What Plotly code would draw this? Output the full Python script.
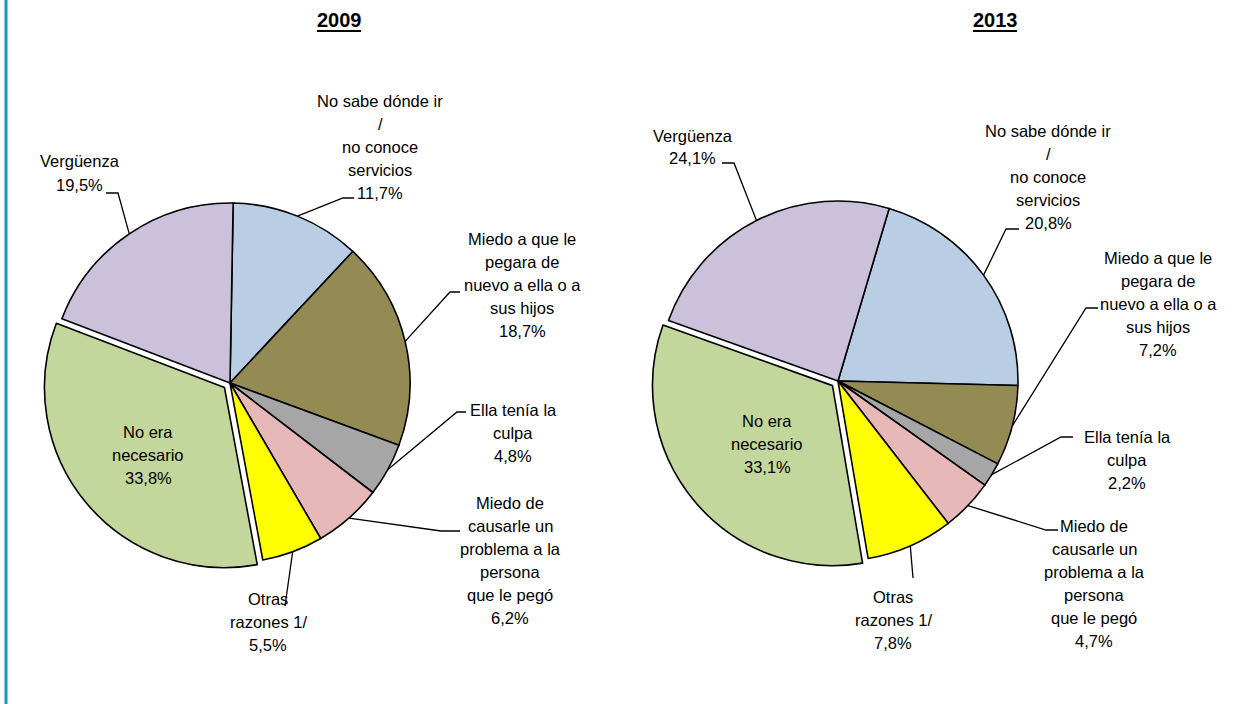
import math
import plotly.graph_objects as go

W, H = 1239, 704

# ---------------- data ----------------
categories = [
    "No sabe dónde ir<br>/<br>no conoce<br>servicios",
    "Miedo a que le<br>pegara de<br>nuevo a ella o a<br>sus hijos",
    "Ella tenía la<br>culpa",
    "Miedo de<br>causarle un<br>problema a la<br>persona<br>que le pegó",
    "Otras<br>razones 1/",
    "No era<br>necesario",
    "Vergüenza",
]
values_2009 = [11.7, 18.7, 4.8, 6.2, 5.5, 33.8, 19.5]
values_2013 = [20.8, 7.2, 2.2, 4.7, 7.8, 33.1, 24.1]
years = ["2009", "2013"]

# ---------------- styling / layout ----------------
colors = ["#B9CDE5", "#948A54", "#A6A6A6", "#E6B9B8", "#FFFF00", "#C3D69B", "#CCC1DA"]
pulls = [0, 0, 0, 0, 0, 0.04, 0]
FONT = "Liberation Sans Narrow, Arial Narrow, Liberation Sans, Arial, sans-serif"
FONT_SIZE = 16.5
LINE_H = 23

pies = [
    dict(year="2009", values=values_2009, cx=230, cy=383, r=180, rot=1, title_x=339,
         # label centre (px) and leader elbow/end points (px); None => inside label
         labels=[
             ((380, 147), [(343, 198), (354, 198)]),
             ((522, 285), [(450, 292), (460, 292)]),
             ((513, 433), [(457, 412), (466, 412)]),
             ((510, 560), [(441, 531), (460, 531)]),
             ((268, 622), [(285, 606)]),
             ((148, 455), None),
             ((80, 173), [(118, 193), (106, 193)]),
         ]),
    dict(year="2013", values=values_2013, cx=838, cy=381, r=180, rot=16.5, title_x=995,
         labels=[
             ((1048, 177), [(1006, 229), (1019, 229)]),
             ((1158, 304), [(1086, 308), (1098, 308)]),
             ((1127, 460), [(1061, 437), (1073, 437)]),
             ((1094, 583), [(1046, 530), (1058, 530)]),
             ((893, 620), [(913, 578)]),
             ((767, 444), None),
             ((693, 147), [(734, 163), (722, 163)]),
         ]),
]


def px(x):
    return x / W


def py(y):
    return 1 - y / H


fig = go.Figure()
annotations = []
shapes = []

for p in pies:
    half = p["r"] * (1 + max(pulls))
    fig.add_trace(go.Pie(
        labels=[c.replace("<br>", " ") for c in categories],
        values=p["values"],
        sort=False,
        direction="clockwise",
        rotation=p["rot"],
        pull=pulls,
        marker=dict(colors=colors, line=dict(color="black", width=1.6)),
        textinfo="none",
        hoverinfo="label+percent",
        showlegend=False,
        domain=dict(x=[px(p["cx"] - half), px(p["cx"] + half)],
                    y=[py(p["cy"] + half), py(p["cy"] - half)]),
    ))

    total = sum(p["values"])
    start = p["rot"]
    for cat, v, (pos, leader) in zip(categories, p["values"], p["labels"]):
        span = v / total * 360
        mid = math.radians(start + span / 2)
        start += span
        lines = cat.split("<br>") + [f"{v:.1f}%".replace(".", ",")]
        n = len(lines)
        for i, ln in enumerate(lines):
            yy = pos[1] + (i - (n - 1) / 2) * LINE_H
            annotations.append(dict(
                x=px(pos[0]), y=py(yy), xref="paper", yref="paper",
                text=ln, showarrow=False, xanchor="center", yanchor="middle",
                font=dict(family=FONT, size=FONT_SIZE, color="black"),
            ))
        if leader:
            ex = p["cx"] + p["r"] * math.sin(mid)
            ey = p["cy"] - p["r"] * math.cos(mid)
            pts = [(ex, ey)] + leader
            path = "M " + " L ".join(f"{px(a):.5f},{py(b):.5f}" for a, b in pts)
            shapes.append(dict(type="path", path=path, xref="paper", yref="paper",
                               line=dict(color="black", width=1.3)))

    # title
    annotations.append(dict(
        x=px(p["title_x"]), y=py(20), xref="paper", yref="paper",
        text=f"<b>{p['year']}</b>", showarrow=False, xanchor="center", yanchor="middle",
        font=dict(family="Liberation Sans, Arial, sans-serif", size=20, color="black"),
    ))
    shapes.append(dict(type="line", xref="paper", yref="paper",
                       x0=px(p["title_x"] - 22), x1=px(p["title_x"] + 22),
                       y0=py(31), y1=py(31), line=dict(color="black", width=2)))

# left blue border
shapes.append(dict(type="line", xref="paper", yref="paper",
                   x0=px(6), x1=px(6), y0=0, y1=1,
                   line=dict(color="#1B95C9", width=3)))

fig.update_layout(
    width=W, height=H,
    margin=dict(l=0, r=0, t=0, b=0),
    paper_bgcolor="white", plot_bgcolor="white",
    annotations=annotations, shapes=shapes,
)

fig.write_html(
    "out.html",
    config={"displayModeBar": False},
    post_script="document.body.style.margin='0';document.body.style.overflow='hidden';",
)
